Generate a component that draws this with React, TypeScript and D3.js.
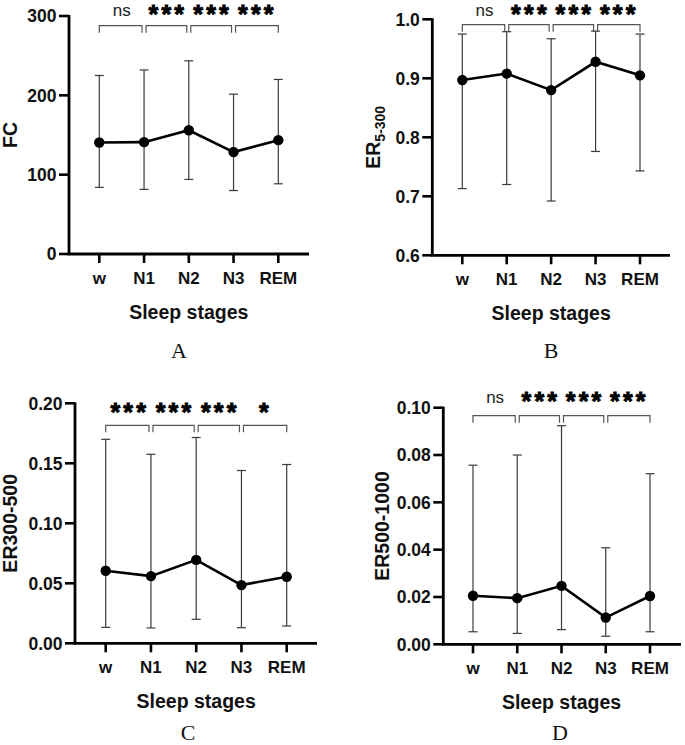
import React from "react";
import * as d3 from "d3";

const categories = ["w", "N1", "N2", "N3", "REM"];

const fcMean = [140.5, 141, 156, 128.5, 143.5];
const fcUpper = [225, 232, 243.5, 201.5, 220];
const fcLower = [84, 81.5, 94, 80, 88.5];
const fcTicks = [0, 100, 200, 300];
const fcSig = ["ns", "***", "***", "***"];

const er5Mean = [0.897, 0.908, 0.88, 0.928, 0.905];
const er5Upper = [0.975, 0.979, 0.967, 0.98, 0.975];
const er5Lower = [0.713, 0.72, 0.692, 0.776, 0.743];
const er5Ticks = [0.6, 0.7, 0.8, 0.9, 1.0];
const er5Sig = ["ns", "***", "***", "***"];

const er300Mean = [0.0605, 0.056, 0.0695, 0.0485, 0.0555];
const er300Upper = [0.17, 0.1575, 0.1715, 0.144, 0.149];
const er300Lower = [0.0133, 0.0128, 0.02, 0.013, 0.0144];
const er300Ticks = [0, 0.05, 0.1, 0.15, 0.2];
const er300Sig = ["***", "***", "***", "*"];

const er500Mean = [0.0205, 0.0195, 0.0247, 0.0113, 0.0204];
const er500Upper = [0.0757, 0.08, 0.0924, 0.0408, 0.0721];
const er500Lower = [0.0053, 0.0046, 0.0062, 0.0034, 0.0053];
const er500Ticks = [0, 0.02, 0.04, 0.06, 0.08, 0.1];
const er500Sig = ["ns", "***", "***", "***"];

const SANS = "'Liberation Sans', Arial, sans-serif";
const SERIF = "'Liberation Serif', 'Times New Roman', serif";

type PanelProps = {
  axisX: number;
  catStart: number;
  catEnd: number;
  axisEnd: number;
  yTopPx: number;
  yBotPx: number;
  domain: [number, number];
  ticks: number[];
  fmt: (v: number) => string;
  mean: number[];
  upper: number[];
  lower: number[];
  sig: string[];
  bracketY: number;
  labelCenterY: number;
  yLabel: React.ReactNode;
  yLabelX: number;
  panelLabel: string;
  panelLabelX: number;
  panelLabelY: number;
};

function Panel(p: PanelProps) {
  const x = d3.scalePoint<string>().domain(categories).range([p.catStart, p.catEnd]);
  const y = d3.scaleLinear().domain(p.domain).range([p.yBotPx, p.yTopPx]);
  const axisY = p.yBotPx;
  const pts: [number, number][] = categories.map((c, i) => [x(c) as number, y(p.mean[i])]);
  const line = d3.line()(pts) as string;
  const midX = (p.catStart + p.catEnd) / 2;
  const yCenter = (p.yTopPx + p.yBotPx) / 2;
  return (
    <g>
      {p.sig.map((s, i) => {
        const x0 = (x(categories[i]) as number) + (i > 0 ? 2 : 0);
        const x1 = (x(categories[i + 1]) as number) - (i < p.sig.length - 1 ? 2 : 0);
        const cx = ((x(categories[i]) as number) + (x(categories[i + 1]) as number)) / 2;
        const isStar = s.includes("*");
        return (
          <g key={"b" + i}>
            <path
              d={`M${x0},${p.bracketY + 7}V${p.bracketY}H${x1}V${p.bracketY + 7}`}
              fill="none"
              stroke="#555"
              strokeWidth={1.2}
            />
            {isStar ? (
              <text
                x={cx + 1.5}
                y={Math.max(p.labelCenterY + 11.5, 22.5)}
                textAnchor="middle"
                fontFamily={SANS}
                fontWeight="bold"
                fontSize={25}
                letterSpacing={3.2}
                fill="#000"
                stroke="#000"
                strokeWidth={0.9}
              >
                {s}
              </text>
            ) : (
              <text
                x={cx}
                y={Math.max(p.labelCenterY + 5, 15.6)}
                textAnchor="middle"
                fontFamily={SANS}
                fontSize={17}
                fill="#222"
              >
                {s}
              </text>
            )}
          </g>
        );
      })}
      {categories.map((c, i) => {
        const cx = x(c) as number;
        return (
          <g key={"e" + i} stroke="#3a3a3a" strokeWidth={1.2}>
            <line x1={cx} x2={cx} y1={y(p.upper[i])} y2={y(p.lower[i])} />
            <line x1={cx - 4.5} x2={cx + 4.5} y1={y(p.upper[i])} y2={y(p.upper[i])} />
            <line x1={cx - 4.5} x2={cx + 4.5} y1={y(p.lower[i])} y2={y(p.lower[i])} />
          </g>
        );
      })}
      <path d={line} fill="none" stroke="#000" strokeWidth={2.6} />
      {pts.map((pt, i) => (
        <circle key={"c" + i} cx={pt[0]} cy={pt[1]} r={5.2} fill="#000" />
      ))}
      <path
        d={`M${p.axisX},${p.yTopPx - 1}V${axisY}H${p.axisEnd}`}
        fill="none"
        stroke="#000"
        strokeWidth={2.8}
      />
      {p.ticks.map((t, i) => (
        <g key={"yt" + i}>
          <line x1={p.axisX - 10} x2={p.axisX} y1={y(t)} y2={y(t)} stroke="#000" strokeWidth={2.6} />
          <text
            x={p.axisX - 12.5}
            y={y(t) + 6.2}
            textAnchor="end"
            fontFamily={SANS}
            fontWeight="bold"
            fontSize={17.5}
            fill="#111"
          >
            {p.fmt(t)}
          </text>
        </g>
      ))}
      {categories.map((c, i) => (
        <g key={"xt" + i}>
          <line x1={x(c) as number} x2={x(c) as number} y1={axisY} y2={axisY + 9} stroke="#000" strokeWidth={2.6} />
          <text
            x={x(c) as number}
            y={axisY + 30}
            textAnchor="middle"
            fontFamily={SANS}
            fontWeight="bold"
            fontSize={17}
            fill="#111"
          >
            {c}
          </text>
        </g>
      ))}
      <text
        x={midX}
        y={axisY + 65}
        textAnchor="middle"
        fontFamily={SANS}
        fontWeight="bold"
        fontSize={19.5}
        fill="#111"
      >
        Sleep stages
      </text>
      <text
        transform={`translate(${p.yLabelX},${yCenter}) rotate(-90)`}
        textAnchor="middle"
        fontFamily={SANS}
        fontWeight="bold"
        fontSize={19.5}
        fill="#111"
      >
        {p.yLabel}
      </text>
      <text
        x={p.panelLabelX}
        y={p.panelLabelY}
        textAnchor="middle"
        fontFamily={SERIF}
        fontSize={22}
        fill="#111"
      >
        {p.panelLabel}
      </text>
    </g>
  );
}

export default function App() {
  const f0 = d3.format(".0f");
  const f1 = d3.format(".1f");
  const f2 = d3.format(".2f");
  return (
    <svg
      width={685}
      height={745}
      style={{ position: "absolute", left: 0, top: 0, background: "#fff" }}
    >
      <rect width={685} height={745} fill="#fff" />
      <Panel
        axisX={69}
        catStart={99.3}
        catEnd={278.3}
        axisEnd={309}
        yTopPx={16}
        yBotPx={254}
        domain={[0, 300]}
        ticks={fcTicks}
        fmt={f0}
        mean={fcMean}
        upper={fcUpper}
        lower={fcLower}
        sig={fcSig}
        bracketY={25.7}
        labelCenterY={9.3}
        yLabel="FC"
        yLabelX={17}
        panelLabel="A"
        panelLabelX={179}
        panelLabelY={358}
      />
      <Panel
        axisX={432.3}
        catStart={462.3}
        catEnd={640}
        axisEnd={670}
        yTopPx={19.3}
        yBotPx={255.3}
        domain={[0.6, 1.0]}
        ticks={er5Ticks}
        fmt={f1}
        mean={er5Mean}
        upper={er5Upper}
        lower={er5Lower}
        sig={er5Sig}
        bracketY={24.7}
        labelCenterY={8.3}
        yLabel={
          <>
            <tspan>ER</tspan>
            <tspan fontSize={14} dy={5}>5-300</tspan>
          </>
        }
        yLabelX={380}
        panelLabel="B"
        panelLabelX={551}
        panelLabelY={358}
      />
      <Panel
        axisX={75}
        catStart={105.7}
        catEnd={286.7}
        axisEnd={317}
        yTopPx={403.3}
        yBotPx={643.3}
        domain={[0, 0.2]}
        ticks={er300Ticks}
        fmt={f2}
        mean={er300Mean}
        upper={er300Upper}
        lower={er300Lower}
        sig={er300Sig}
        bracketY={425.3}
        labelCenterY={409.3}
        yLabel="ER300-500"
        yLabelX={17}
        panelLabel="C"
        panelLabelX={188}
        panelLabelY={740}
      />
      <Panel
        axisX={443.3}
        catStart={473}
        catEnd={650}
        axisEnd={681}
        yTopPx={407.7}
        yBotPx={644.3}
        domain={[0, 0.1]}
        ticks={er500Ticks}
        fmt={f2}
        mean={er500Mean}
        upper={er500Upper}
        lower={er500Lower}
        sig={er500Sig}
        bracketY={415.7}
        labelCenterY={398.3}
        yLabel="ER500-1000"
        yLabelX={388.5}
        panelLabel="D"
        panelLabelX={560}
        panelLabelY={740}
      />
    </svg>
  );
}
